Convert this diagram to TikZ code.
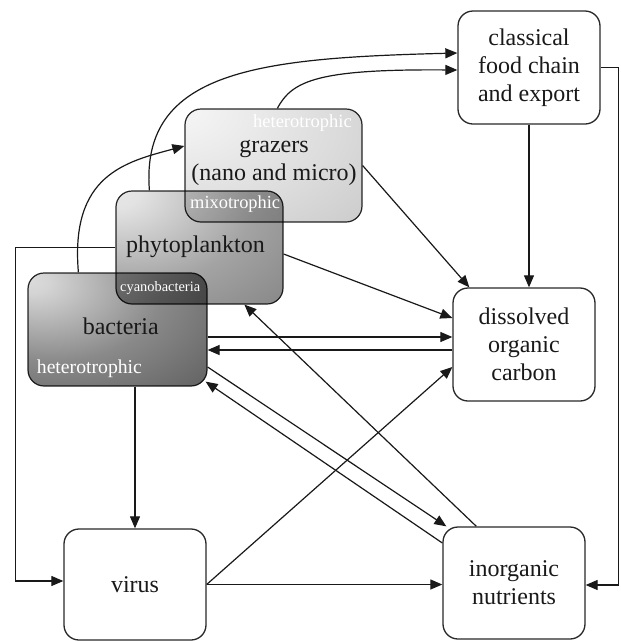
\documentclass[tikz,border=0pt]{standalone}
\usepackage{fontspec}
\setmainfont{Liberation Serif}
\usetikzlibrary{arrows.meta}
\definecolor{boxline}{gray}{0.16}
\definecolor{lineclr}{gray}{0.1}
\definecolor{txtclr}{gray}{0.1}
% bacteria shading colours
\definecolor{bA}{gray}{0.86}
\definecolor{bB}{gray}{0.83}
\definecolor{bC}{gray}{0.54}
\definecolor{bD}{gray}{0.37}
\definecolor{bE}{gray}{0.23}
\definecolor{bF}{gray}{0.15}
% phytoplankton shading colours
\definecolor{pA}{gray}{0.91}
\definecolor{pB}{gray}{0.89}
\definecolor{pC}{gray}{0.64}
\definecolor{pD}{gray}{0.51}
\definecolor{pE}{gray}{0.42}
\definecolor{pF}{gray}{0.36}
% grazers shading colours
\definecolor{gA}{gray}{0.97}
\definecolor{gB}{gray}{0.95}
\definecolor{gC}{gray}{0.86}
\definecolor{gD}{gray}{0.76}
\definecolor{gE}{gray}{0.68}
\definecolor{gF}{gray}{0.62}
\pgfdeclareradialshading{bactshade}{\pgfpoint{-25bp}{22bp}}{color(0bp)=(bA); color(5bp)=(bB); color(30bp)=(bC); color(55bp)=(bD); color(80bp)=(bE); color(110bp)=(bF)}
\pgfdeclareradialshading{phytoshade}{\pgfpoint{-28bp}{27bp}}{color(0bp)=(pA); color(8bp)=(pB); color(35bp)=(pC); color(60bp)=(pD); color(85bp)=(pE); color(115bp)=(pF)}
\pgfdeclareradialshading{grazshade}{\pgfpoint{-32bp}{28bp}}{color(0bp)=(gA); color(10bp)=(gB); color(40bp)=(gC); color(70bp)=(gD); color(100bp)=(gE); color(125bp)=(gF)}
\newcommand\bigfnt{\fontsize{24}{28}\selectfont}
\begin{document}
\begin{tikzpicture}[x=1pt,y=-1pt,
  whitebox/.style={draw=boxline, line width=1.3pt, rounded corners=15pt, fill=white,
    minimum width=142pt, minimum height=113pt, inner sep=0pt, align=center,
    font=\bigfnt, text=txtclr},
  shbox/.style={draw=boxline, line width=1.2pt, rounded corners=16pt, inner sep=0pt,
    minimum height=113pt, shade},
  mainlbl/.style={inner sep=0pt, font=\bigfnt, text=txtclr},
  wlabel/.style={inner sep=0pt, text=white, anchor=base west},
  conn/.style={line width=1.2pt, draw=lineclr, -{Triangle[length=12pt,width=10pt]}}]
\useasboundingbox (0,0) rectangle (621,641);
\fill[white] (0,0) rectangle (621,641);

% shaded, overlapping boxes
\begin{scope}[blend mode=multiply]
\node[shbox, shading=grazshade, minimum width=177pt] (graz) at (273.5,165.5) {};
\node[shbox, shading=phytoshade, minimum width=167pt] (phyto) at (199.5,247.5) {};
\node[shbox, shading=bactshade, minimum width=179pt] (bact) at (117.5,329.5) {};
\end{scope}

% white boxes
\node[whitebox] (classical) at (529,67.5) {classical\\food chain\\and export};
\node[whitebox] (doc) at (524,344.5) {dissolved\\organic\\carbon};
\node[whitebox, minimum height=112pt] (nutr) at (514,583) {inorganic\\nutrients};
\node[whitebox, minimum height=111pt] (virus) at (135,584.5) {virus};

% labels of shaded boxes
\node[mainlbl, align=center] (grazlbl) at (274,162.4) {grazers\\(nano and micro)};
\node[mainlbl, anchor=base] (phytolbl) at (195.5,252.7) {phytoplankton};
\node[mainlbl, anchor=base] (bactlbl) at (120.8,334.7) {bacteria};
\node[wlabel, anchor=base east, font=\fontsize{18.5}{20}\selectfont] (grazhet) at (352,127) {heterotrophic};
\node[wlabel, font=\fontsize{18.4}{20}\selectfont] (mixo) at (190,208) {mixotrophic};
\node[wlabel, font=\fontsize{14.4}{16}\selectfont] (cyano) at (120,291) {cyanobacteria};
\node[wlabel, font=\fontsize{19.7}{22}\selectfont] (bacthet) at (36.7,373) {heterotrophic};

% connectors
\draw[conn] ([xshift=51pt]bact.north west) .. controls (70,175) and (125,162) .. ([yshift=19.5pt]graz.west);
\draw[conn] ([xshift=34pt]phyto.north west) .. controls (140,70) and (260,58) .. ([yshift=14.5pt]classical.west);
\draw[conn] ([xshift=93pt]graz.north west) .. controls (292,80) and (320,69) .. ([yshift=-2.5pt]classical.west);
\draw[conn] (phyto.west) -- ++(-100,0) |- ([yshift=3.5pt]virus.west);
\draw[conn] ([yshift=-6.5pt]phyto.east) -- ([yshift=26.5pt]doc.west);
\draw[conn] (graz.east) -- ([xshift=17pt]doc.north west);
\draw[conn] (classical.south) -- (classical.south |- doc.north);
\draw[conn] (classical.east) -- ++(18,0) |- ([yshift=-2pt]nutr.east);
\draw[conn] ([yshift=-7.5pt]bact.east) -- ([yshift=7.5pt]doc.west);
\draw[conn] ([yshift=-5.5pt]doc.west) -- ([yshift=-20.5pt]bact.east);
\draw[conn] ([yshift=-37.5pt]bact.east) -- ([xshift=4pt]nutr.north west);
\draw[conn] ([yshift=40pt]nutr.west) -- ([xshift=-2pt,yshift=5pt]bact.south east);
\draw[conn] ([xshift=34pt]nutr.north west) -- ([xshift=129pt]phyto.south west);
\draw[conn] (virus.east) -- ([yshift=-22.5pt]doc.west);
\draw[conn] (virus.east) -- (virus.east -| nutr.west);
\draw[conn] (virus.north |- bact.south) -- (virus.north);
\end{tikzpicture}
\end{document}
